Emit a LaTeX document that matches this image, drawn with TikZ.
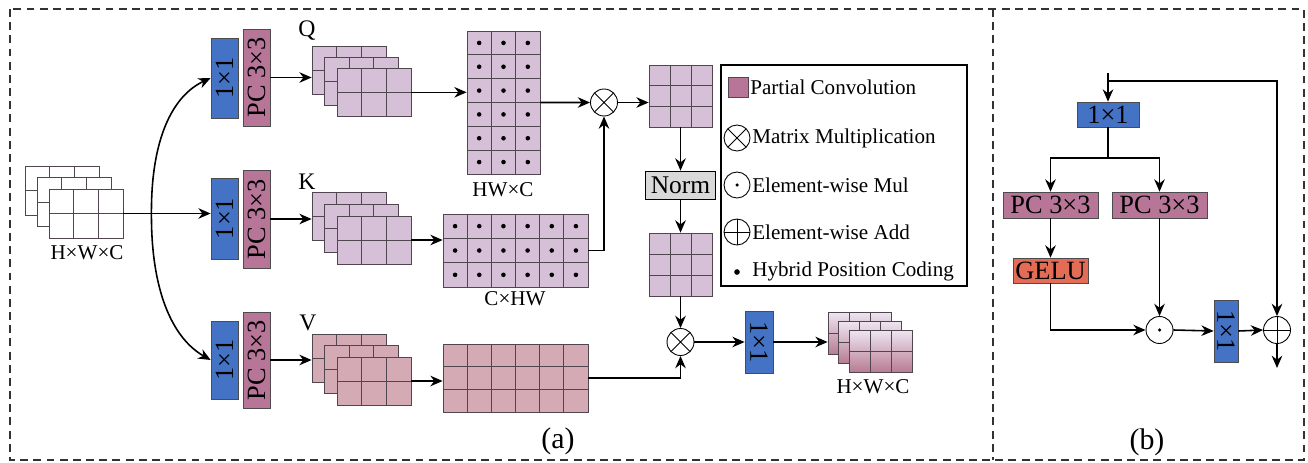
\documentclass[tikz,border=0pt]{standalone}
\usepackage{fontspec}
\setmainfont{Liberation Serif}
\usepackage{tikz}
\usetikzlibrary{arrows.meta,positioning,fit,calc}
\definecolor{ConvBlue}{RGB}{68,114,196}
\definecolor{PCPink}{RGB}{183,117,152}
\definecolor{QKLilac}{RGB}{214,192,215}
\definecolor{VRose}{RGB}{212,171,180}
\definecolor{NormGray}{RGB}{217,217,217}
\definecolor{GeluRed}{RGB}{226,108,86}
\definecolor{GridLine}{RGB}{80,70,80}
\definecolor{OutTop}{RGB}{238,230,242}
\definecolor{OutBot}{RGB}{184,124,146}
\definecolor{FrameGray}{RGB}{50,50,50}

\newdimen\pxu \pxu=0.02cm

\tikzset{
  arr/.style={line width=0.9pt, -{Stealth[length=7pt,width=6pt]}},
  link/.style={line width=0.9pt},
  convbox/.style={draw=gray!60!black, fill=ConvBlue, inner sep=0pt, font=\fontsize{15}{18}\selectfont},
  pcbox/.style={draw=gray!60!black, fill=PCPink, inner sep=0pt, font=\fontsize{15}{18}\selectfont},
  op/.style={circle, draw, line width=0.5pt, minimum size=27\pxu, inner sep=0pt},
  otimesop/.style={op, path picture={\draw[line width=0.5pt] (path picture bounding box.north west) -- (path picture bounding box.south east) (path picture bounding box.south west) -- (path picture bounding box.north east);}},
  oplusop/.style={op, path picture={\draw[line width=0.5pt] (path picture bounding box.north) -- (path picture bounding box.south) (path picture bounding box.west) -- (path picture bounding box.east);}},
  odotop/.style={op, path picture={\fill (path picture bounding box.center) circle (1pt);}},
  dimlbl/.style={font=\fontsize{12}{14}\selectfont, inner sep=0pt},
  qkv/.style={font=\fontsize{13.5}{16}\selectfont, inner sep=0pt},
  legtxt/.style={font=\fontsize{12}{14}\selectfont, anchor=west, inner sep=0pt},
  capt/.style={font=\fontsize{17}{20}\selectfont, inner sep=0pt}
}

% feature map: name, left, top, cols, rows, cell w, cell h, fill options
\newcommand{\fmap}[8]{%
  \path[draw=GridLine, line width=0.5pt, #8] (#2,#3) rectangle ++(#4*#6,#5*#7);
  \foreach \ci in {1,...,#4} \draw[GridLine, line width=0.5pt] (#2+\ci*#6,#3) -- ++(0,#5*#7);
  \foreach \ri in {1,...,#5} \draw[GridLine, line width=0.5pt] (#2,#3+\ri*#7) -- ++(#4*#6,0);
  \node[inner sep=0pt, fit={(#2,#3) (#2+#4*#6,#3+#5*#7)}] (#1) {};
}
% position coding dots: left, top, cols, rows, cell w, cell h
\newcommand{\posdots}[6]{%
  \foreach \ci in {1,...,#3} \foreach \ri in {1,...,#4}
    \fill (#1+\ci*#5-#5/2,#2+\ri*#6-#6/2) circle (1.3pt);
}

\begin{document}
\begin{tikzpicture}[x=0.02cm, y=-0.02cm]
  \useasboundingbox (0,0) rectangle (1308,463);
  % frames
  \draw[FrameGray, line width=0.6pt, dash pattern=on 4.5pt off 3pt] (10,9) rectangle (1304,460);
  \draw[FrameGray, line width=0.6pt, dash pattern=on 4.5pt off 3pt] (993,9) -- (993,460);

  % ---------- (a) ----------
  % input
  \fmap{in1}{25}{166}{3}{2}{24.7}{24.5}{fill=white}
  \fmap{in2}{37}{177.5}{3}{2}{24.7}{24.5}{fill=white}
  \fmap{in3}{49}{189}{3}{2}{24.7}{24.5}{fill=white}
  \node[dimlbl] (inlab) at (87,253) {H×W×C};

  % 1x1 and PC 3x3 branches
  \node[convbox, minimum width=27\pxu, minimum height=80\pxu] (bq) at (224.5,78) {\rotatebox{90}{1×1}};
  \node[pcbox, minimum width=27\pxu, minimum height=97\pxu] (pcq) at (256.5,77.5) {\rotatebox{90}{PC 3×3}};
  \node[convbox, minimum width=27\pxu, minimum height=81\pxu] (bk) at (224.5,218.5) {\rotatebox{90}{1×1}};
  \node[pcbox, minimum width=27\pxu, minimum height=98\pxu] (pck) at (256.5,219) {\rotatebox{90}{PC 3×3}};
  \node[convbox, minimum width=27\pxu, minimum height=78\pxu] (bv) at (224.5,360) {\rotatebox{90}{1×1}};
  \node[pcbox, minimum width=27\pxu, minimum height=96\pxu] (pcv) at (256.5,360) {\rotatebox{90}{PC 3×3}};

  \path (in3.east) ++(28,0) coordinate (split);
  \draw[arr] (in3.east) -- (in3.east -| bk.west);
  \draw[arr] (split) .. controls (151,140) and (172,96) .. (bq.west);
  \draw[arr] (split) .. controls (151,290) and (172,338) .. (bv.west);

  % Q, K, V stacks
  \fmap{q1}{312}{46}{3}{2}{24.7}{24.3}{fill=QKLilac}
  \fmap{q2}{324.5}{57}{3}{2}{24.7}{24.3}{fill=QKLilac}
  \fmap{q3}{337}{68}{3}{2}{24.7}{24.3}{fill=QKLilac}
  \fmap{k1}{312}{192}{3}{2}{24.7}{24}{fill=QKLilac}
  \fmap{k2}{324.5}{204}{3}{2}{24.7}{24}{fill=QKLilac}
  \fmap{k3}{337}{216}{3}{2}{24.7}{24}{fill=QKLilac}
  \fmap{v1}{312}{334}{3}{2}{24.7}{24}{fill=VRose}
  \fmap{v2}{324.5}{345.5}{3}{2}{24.7}{24}{fill=VRose}
  \fmap{v3}{337}{357}{3}{2}{24.7}{24}{fill=VRose}
  \node[qkv] (qlab) at (307,31) {Q};
  \node[qkv] (klab) at (307,182) {K};
  \node[qkv] (vlab) at (308,323) {V};
  \draw[arr] (pcq.east) -- (pcq.east -| q1.west);
  \draw[arr] (pck.east) -- (pck.east -| k1.west);
  \draw[arr] (pcv.east) -- (pcv.east -| v1.west);

  % reshaped matrices
  \fmap{hwc}{467}{31}{3}{6}{24.33}{23.83}{fill=QKLilac}
  \posdots{467}{31}{3}{6}{24.33}{23.83}
  \node[dimlbl] (hwclab) at (503,190) {HW×C};
  \fmap{ckhw}{443}{214}{6}{3}{24.17}{24.33}{fill=QKLilac}
  \posdots{443}{214}{6}{3}{24.17}{24.33}
  \node[dimlbl] (ckhwlab) at (515,299) {C×HW};
  \fmap{vmat}{443}{344}{6}{3}{24.17}{22.67}{fill=VRose}
  \draw[arr] (q3.east) -- (q3.east -| hwc.west);
  \draw[arr] (k3.east) -- (k3.east -| ckhw.west);
  \draw[arr] (v3.east) -- (v3.east -| vmat.west);

  % attention
  \node[otimesop] (o1) at (604,102.5) {};
  \draw[arr] (hwc.east) -- (o1.west);
  \draw[arr] (ckhw.east) -| (o1.south);
  \fmap{sq1}{649}{65}{3}{3}{21}{20.67}{fill=QKLilac}
  \draw[arr] (o1.east) -- (o1.east -| sq1.west);
  \node[draw, fill=NormGray, minimum width=70\pxu, minimum height=28\pxu, inner sep=0pt, font=\fontsize{14.5}{17}\selectfont] (norm) at (680.5,185) {Norm};
  \draw[arr] (sq1.south) -- (norm.north);
  \fmap{sq2}{649}{233}{3}{3}{21}{21}{fill=QKLilac}
  \draw[arr] (norm.south) -- (sq2.north);
  \node[otimesop] (o2) at (680.5,342) {};
  \draw[arr] (sq2.south) -- (o2.north);
  \draw[arr] (vmat.east) -| (o2.south);
  \node[convbox, minimum width=28\pxu, minimum height=62\pxu] (bo) at (759,342) {\rotatebox{-90}{1×1}};
  \draw[arr] (o2.east) -- (bo.west);

  % output
  \fmap{out1}{828}{312}{3}{2}{21}{21}{top color=OutTop, bottom color=OutBot}
  \fmap{out2}{838.5}{321}{3}{2}{21}{21}{top color=OutTop, bottom color=OutBot}
  \fmap{out3}{849}{330}{3}{2}{21}{21}{top color=OutTop, bottom color=OutBot}
  \node[dimlbl] (outlab) at (873,387) {H×W×C};
  \draw[arr] (bo.east) -- (bo.east -| out1.west);

  % legend
  \node[draw, line width=0.6pt, inner sep=0pt, fit={(721,65) (967,286)}] (legend) {};
  \node[draw=GridLine, fill=PCPink, minimum size=20\pxu, inner sep=0pt] (legpc) at (738,87) {};
  \node[legtxt] (legpct) at (750,87) {Partial Convolution};
  \node[otimesop, minimum size=26\pxu] (legmm) at (737,138) {};
  \node[legtxt] (legmmt) at (752,138) {Matrix Multiplication};
  \node[odotop, minimum size=26\pxu] (legmul) at (737,185) {};
  \node[legtxt] (legmult) at (752,185) {Element-wise Mul};
  \node[oplusop, minimum size=26\pxu] (legadd) at (737,232) {};
  \node[legtxt] (legaddt) at (752,232) {Element-wise Add};
  \fill (737,272) circle (1.6pt);
  \node[legtxt] (leghpc) at (752,271) {Hybrid Position Coding};

  \node[capt] (capa) at (558,441) {(a)};

  % ---------- (b) ----------
  \coordinate (tin) at (1108,73);
  \coordinate (tjoin) at (1108,81);
  \node[convbox, minimum width=62\pxu, minimum height=25\pxu] (b1) at (1108,114.5) {1×1};
  \coordinate (bsplit) at (1108,158);
  \node[pcbox, minimum width=95\pxu, minimum height=26\pxu] (pcl) at (1050.5,205) {PC 3×3};
  \node[pcbox, minimum width=95\pxu, minimum height=26\pxu] (pcr) at (1159.5,205) {PC 3×3};
  \node[draw=gray!60!black, fill=GeluRed, minimum width=75\pxu, minimum height=25\pxu, inner sep=0pt, font=\fontsize{15}{18}\selectfont] (gelu) at (1050.5,270.5) {GELU};
  \node[odotop] (odot) at (1159.5,330) {};
  \node[convbox, minimum width=24\pxu, minimum height=62\pxu] (b2) at (1226,331) {\rotatebox{-90}{1×1}};
  \node[oplusop] (oplus) at (1277,330) {};
  \coordinate (bout) at (1277,368);

  \draw[arr] (tin) -- (b1.north);
  \draw[arr] (tjoin) -| (oplus.north);
  \draw[link] (b1.south) -- (bsplit);
  \draw[arr] (bsplit) -| (pcl.north);
  \draw[arr] (bsplit) -| (pcr.north);
  \draw[arr] (pcl.south) -- (gelu.north);
  \draw[arr] (gelu.south) |- (odot.west);
  \draw[arr] (pcr.south) -- (odot.north);
  \draw[arr] (odot.east) -- (b2.west);
  \draw[arr] (b2.east) -- (oplus.west);
  \draw[arr] (oplus.south) -- (bout);

  \node[capt] (capb) at (1147,442) {(b)};
\end{tikzpicture}
\end{document}
